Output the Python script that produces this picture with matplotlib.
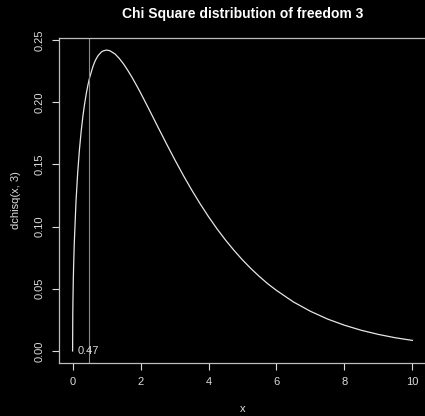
import matplotlib
matplotlib.use("Agg")
import matplotlib.pyplot as plt

# values
x_vals = [0, 0.005, 0.01, 0.02, 0.03, 0.05, 0.1, 0.15, 0.2, 0.25, 0.3, 0.35,
          0.4, 0.45, 0.5, 0.6, 0.65, 0.7, 0.75, 0.85, 0.9, 1, 1.1, 1.25,
          1.375, 1.5, 1.625, 1.75, 1.875, 2, 2.25, 2.5, 2.75, 3, 3.25, 3.5,
          3.75, 4, 4.25, 4.5, 4.75, 5, 5.25, 5.5, 5.75, 6, 6.5, 7, 7.5, 8,
          8.5, 9, 9.5, 10]
density = [0, 0.0281, 0.0397, 0.0559, 0.0681, 0.0870, 0.1200, 0.1433,
           0.1614, 0.1760, 0.1881, 0.1981, 0.2066, 0.2137, 0.2197, 0.2289,
           0.2324, 0.2352, 0.2375, 0.2405, 0.2413, 0.2420, 0.2414, 0.2388,
           0.2352, 0.2308, 0.2256, 0.2200, 0.2139, 0.2076, 0.1943, 0.1807,
           0.1673, 0.1542, 0.1416, 0.1297, 0.1185, 0.1080, 0.0982, 0.0892,
           0.0809, 0.0732, 0.0662, 0.0598, 0.0539, 0.0487, 0.0394, 0.0319,
           0.0257, 0.0207, 0.0166, 0.0133, 0.0106, 0.0085]
marker_x = 0.47
x_ticks = [0, 2, 4, 6, 8, 10]
y_ticks = [0.00, 0.05, 0.10, 0.15, 0.20, 0.25]

plt.rcParams['font.family'] = ['Liberation Sans', 'DejaVu Sans']
fg = '#dcdcdc'

fig = plt.figure(figsize=(4.25, 4.16), dpi=100, facecolor='black')
ax = fig.add_axes([59 / 425, 53 / 416, 367 / 425, 325 / 416])
ax.set_facecolor('black')

ax.plot(x_vals, density, color='#e6e6e6', lw=0.9)
ax.axvline(marker_x, color='#8a8a8a', lw=0.8)
ax.text(marker_x, 0, '%.2f' % marker_x, color=fg, fontsize=8,
        ha='center', va='center')

ymax = max(density)
ax.set_xlim(-0.4, 10.4)
ax.set_ylim(-0.04 * ymax, 1.04 * ymax)
ax.set_xticks(x_ticks)
ax.set_xticklabels(['%d' % t for t in x_ticks])
ax.set_yticks(y_ticks)
ax.set_yticklabels(['%.2f' % t for t in y_ticks], rotation=90, va='center')
ax.tick_params(colors=fg, labelsize=8, length=5, width=0.8, direction='out')
ax.tick_params(axis='x', pad=5)
ax.tick_params(axis='y', pad=5)
for sp in ax.spines.values():
    sp.set_color('#bdbdbd')
    sp.set_linewidth(0.9)

ax.set_xlabel('x', color=fg, fontsize=8, labelpad=12)
ax.set_ylabel('dchisq(x, 3)', color=fg, fontsize=8, labelpad=10)
fig.text(0.5 * (59 + 426) / 425, 1 - 14 / 416, 'Chi Square distribution of freedom 3',
         color='white', fontsize=10, fontweight='bold', ha='center', va='center')

fig.savefig('out.png', dpi=100, facecolor='black')
